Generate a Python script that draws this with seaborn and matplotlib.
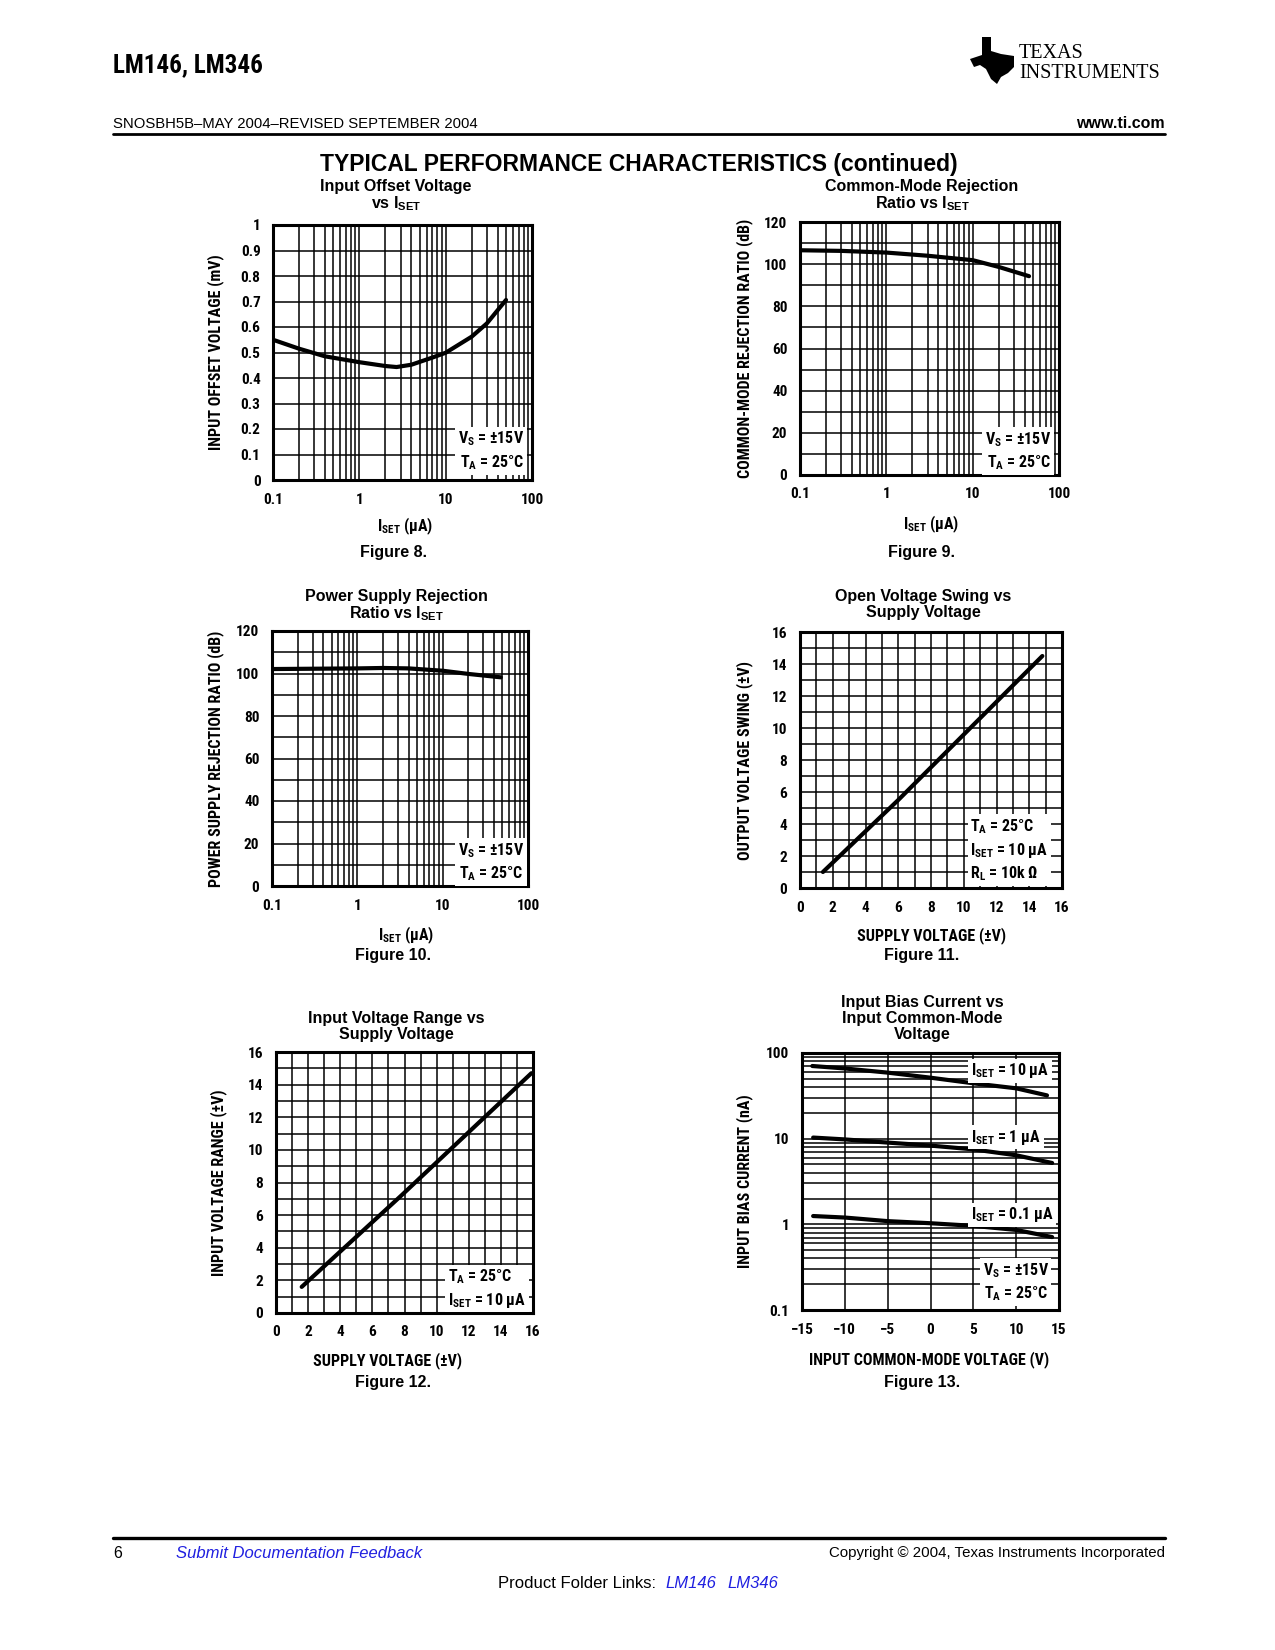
import os
import numpy as np
import pandas as pd
import seaborn as sns
import matplotlib.pyplot as plt
from matplotlib import font_manager
from matplotlib.font_manager import FontProperties
from matplotlib.ticker import MultipleLocator, LogLocator, NullFormatter
from matplotlib.patches import Polygon

# ---- values ----
# Figure 8: input offset voltage vs ISET
fig8_iset = [0.1, 0.2, 0.4, 1, 2, 2.7, 4, 7, 10, 20, 30, 50]
fig8_vos = [0.55, 0.515, 0.485, 0.462, 0.447, 0.443, 0.452, 0.48, 0.499, 0.562, 0.614, 0.706]

# Figure 9: CMRR vs ISET
fig9_iset = [0.1, 0.3, 1, 3, 10, 20, 45]
fig9_cmrr = [106.6, 106.3, 105.5, 104, 101.9, 98.7, 94.3]

# Figure 10: PSRR vs ISET
fig10_iset = [0.1, 1, 2, 4, 10, 20, 48]
fig10_psrr = [102.1, 102.4, 102.6, 102.4, 101.3, 99.8, 98.2]

# Figure 11: output voltage swing vs supply voltage
fig11_vs = [1.4, 6.0, 14.8]
fig11_swing = [1.0, 5.5, 14.5]

# Figure 12: input voltage range vs supply voltage
fig12_vs = [1.6, 7.8, 15.9]
fig12_range = [1.6, 7.2, 14.7]

# Figure 13: input bias current vs common-mode voltage
ib_10_vcm = [-13.8, -10, -5, 0, 5, 10, 13.6]
ib_10 = [70.5, 66, 59, 51.5, 44.3, 38.7, 32]
ib_1_vcm = [-13.7, -10, -5, 0, 5, 10, 14.2]
ib_1 = [10.3, 9.8, 9.0, 8.3, 7.5, 6.4, 5.2]
ib_01_vcm = [-13.7, -10, -5, 0, 5, 10, 14.2]
ib_01 = [1.25, 1.2, 1.09, 1.03, 0.96, 0.86, 0.71]

decade_ticks = [0.1, 1, 10, 100]
decade_labels = ["0.1", "1", "10", "100"]

sns.set_style("white")
plt.rcParams["font.family"] = ["Liberation Sans", "DejaVu Sans"]
plt.rcParams["text.color"] = "black"
plt.rcParams["axes.labelcolor"] = "black"
plt.rcParams["xtick.color"] = "black"
plt.rcParams["ytick.color"] = "black"

# datasheet graph lettering is a condensed bold sans; use one if installed
paths = {os.path.splitext(os.path.basename(f.fname))[0]: f.fname
         for f in font_manager.fontManager.ttflist}
wanted = ["LiberationSansNarrow-Bold", "RobotoCondensed-Bold", "NotoSans-CondensedBold",
          "DejaVuSansCondensed-Bold", "OpenSans-CondensedBold", "OpenSans_Condensed-Bold"]
narrow_path = next((paths[w] for w in wanted if w in paths), None)
if narrow_path is None:
    narrow_path = next((p for n, p in paths.items()
                        if ("ondensed" in n or "Narrow" in n) and "Bold" in n
                        and "Italic" not in n and "Extra" not in n and "Semi" not in n), None)


def nfp(size):
    if narrow_path:
        return FontProperties(fname=narrow_path, size=size)
    return FontProperties(family=["Liberation Sans", "DejaVu Sans"], weight="bold", size=size)


fp_tick = nfp(11)
fp_lab = nfp(11.5)
fp_note = nfp(11.5)

W, H = 1275, 1650
fig = plt.figure(figsize=(W / 100, H / 100), dpi=100)


def fy(y):
    return 1 - y / H


def make_axes(rect):
    l, t, r, b = rect
    ax = fig.add_axes([l / W, 1 - b / H, (r - l) / W, (b - t) / H])
    for s in ax.spines.values():
        s.set_color("black")
        s.set_linewidth(2.2)
    return ax


def finish(ax, rect, xlabel, xlab_px, ylabel, ylab_x):
    l, t, r, b = rect
    ax.grid(True, which="both", color="black", linewidth=1.1)
    ax.tick_params(which="both", length=0, pad=9)
    ax.set_xlabel(xlabel, fontproperties=fp_lab, va="center")
    ax.set_ylabel(ylabel, fontproperties=fp_lab, va="center")
    ax.xaxis.set_label_coords((xlab_px[0] - l) / (r - l), (b - xlab_px[1]) / (b - t))
    ax.yaxis.set_label_coords((ylab_x - l) / (r - l), 0.5)


def log_x(ax):
    ax.set_xscale("log")
    ax.set_xlim(0.1, 100)
    ax.set_xticks(decade_ticks, decade_labels, fontproperties=fp_tick)
    ax.xaxis.set_minor_locator(LogLocator(base=10, subs=np.arange(2, 10)))
    ax.xaxis.set_minor_formatter(NullFormatter())


def titles(x, ys, lines):
    for y, s in zip(ys, lines):
        fig.text(x / W, fy(y), s, ha="center", va="center", fontsize=11.5, weight="bold")


def caption(x, y, s):
    fig.text(x / W, fy(y), s, ha="center", va="center", fontsize=11.5, weight="bold")


def note(ax, x, y, s, ha="right"):
    ax.text(x, y, s, transform=ax.transAxes, ha=ha, va="center", fontproperties=fp_note,
            linespacing=1.35, zorder=5, bbox=dict(facecolor="white", edgecolor="none", pad=2))


iset_lab = "I$_\\mathregular{SET}$ (μA)"
vs_ta = "V$_\\mathregular{S}$ = ±15V\nT$_\\mathregular{A}$ = 25°C"

# ---- Figure 8 ----
r8 = (273, 225, 532, 480)
ax = make_axes(r8)
log_x(ax)
sns.lineplot(x=fig8_iset, y=fig8_vos, ax=ax, color="black", linewidth=3)
ax.set_ylim(0, 1)
yt = np.round(np.arange(0, 1.01, 0.1), 1)
ax.set_yticks(yt, ["0"] + [f"{v:g}" for v in yt[1:-1]] + ["1"], fontproperties=fp_tick)
finish(ax, r8, iset_lab, (405, 526), "INPUT OFFSET VOLTAGE (mV)", 216)
note(ax, 0.969, 0.114, vs_ta)
titles(396, [186.5, 204], ["Input Offset Voltage", "vs I$_\\mathregular{SET}$"])
caption(394, 552, "Figure 8.")

# ---- Figure 9 ----
r9 = (800, 222, 1059, 475)
ax = make_axes(r9)
log_x(ax)
sns.lineplot(x=fig9_iset, y=fig9_cmrr, ax=ax, color="black", linewidth=3)
ax.set_ylim(0, 120)
ax.set_yticks(range(0, 121, 20), [str(v) for v in range(0, 121, 20)], fontproperties=fp_tick)
ax.yaxis.set_minor_locator(MultipleLocator(10))
finish(ax, r9, iset_lab, (931, 524), "COMMON-MODE REJECTION RATIO (dB)", 745)
note(ax, 0.969, 0.095, vs_ta)
titles(922, [186.5, 203.5], ["Common-Mode Rejection", "Ratio vs I$_\\mathregular{SET}$"])
caption(921, 552, "Figure 9.")

# ---- Figure 10 ----
r10 = (272, 631, 528, 886)
ax = make_axes(r10)
log_x(ax)
sns.lineplot(x=fig10_iset, y=fig10_psrr, ax=ax, color="black", linewidth=3)
ax.set_ylim(0, 120)
ax.set_yticks(range(0, 121, 20), [str(v) for v in range(0, 121, 20)], fontproperties=fp_tick)
ax.yaxis.set_minor_locator(MultipleLocator(10))
finish(ax, r10, iset_lab, (406, 935), "POWER SUPPLY REJECTION RATIO (dB)", 216)
note(ax, 0.984, 0.094, vs_ta)
titles(396, [596.5, 613.5], ["Power Supply Rejection", "Ratio vs I$_\\mathregular{SET}$"])
caption(393, 956, "Figure 10.")

# ---- Figure 11 ----
r11 = (800, 632, 1062, 888)
ax = make_axes(r11)
sns.lineplot(x=fig11_vs, y=fig11_swing, ax=ax, color="black", linewidth=3)
ax.set_xlim(0, 16)
ax.set_ylim(0, 16)
ax.set_xticks(range(0, 17, 2), [str(v) for v in range(0, 17, 2)], fontproperties=fp_tick)
ax.set_yticks(range(0, 17, 2), [str(v) for v in range(0, 17, 2)], fontproperties=fp_tick)
ax.xaxis.set_minor_locator(MultipleLocator(1))
ax.yaxis.set_minor_locator(MultipleLocator(1))
finish(ax, r11, "SUPPLY VOLTAGE (±V)", (932, 936), "OUTPUT VOLTAGE SWING (±V)", 745)
note(ax, 0.65, 0.148,
     "T$_\\mathregular{A}$ = 25°C\nI$_\\mathregular{SET}$ = 10 μA\nR$_\\mathregular{L}$ = 10k Ω", ha="left")
titles(923, [596.5, 612], ["Open Voltage Swing vs", "Supply Voltage"])
caption(922, 956, "Figure 11.")

# ---- Figure 12 ----
r12 = (276, 1052, 533, 1313)
ax = make_axes(r12)
sns.lineplot(x=fig12_vs, y=fig12_range, ax=ax, color="black", linewidth=3)
ax.set_xlim(0, 16)
ax.set_ylim(0, 16)
ax.set_xticks(range(0, 17, 2), [str(v) for v in range(0, 17, 2)], fontproperties=fp_tick)
ax.set_yticks(range(0, 17, 2), [str(v) for v in range(0, 17, 2)], fontproperties=fp_tick)
ax.xaxis.set_minor_locator(MultipleLocator(1))
ax.yaxis.set_minor_locator(MultipleLocator(1))
finish(ax, r12, "SUPPLY VOLTAGE (±V)", (388, 1361), "INPUT VOLTAGE RANGE (±V)", 219)
note(ax, 0.67, 0.094, "T$_\\mathregular{A}$ = 25°C\nI$_\\mathregular{SET}$ = 10 μA", ha="left")
titles(396, [1018, 1034], ["Input Voltage Range vs", "Supply Voltage"])
caption(393, 1383, "Figure 12.")

# ---- Figure 13 ----
fig13 = pd.concat([
    pd.DataFrame({"vcm": ib_10_vcm, "ib": ib_10, "iset": "10 uA"}),
    pd.DataFrame({"vcm": ib_1_vcm, "ib": ib_1, "iset": "1 uA"}),
    pd.DataFrame({"vcm": ib_01_vcm, "ib": ib_01, "iset": "0.1 uA"}),
])
r13 = (802, 1053, 1059, 1310)
ax = make_axes(r13)
ax.set_yscale("log")
sns.lineplot(data=fig13, x="vcm", y="ib", hue="iset", palette=["black"] * 3,
             legend=False, ax=ax, linewidth=3)
ax.set_xlim(-15, 15)
ax.set_ylim(0.1, 100)
ax.set_xticks(range(-15, 16, 5), [str(v).replace("-", "\u2212") for v in range(-15, 16, 5)],
              fontproperties=fp_tick)
ax.set_yticks(decade_ticks, decade_labels, fontproperties=fp_tick)
ax.yaxis.set_minor_locator(LogLocator(base=10, subs=np.arange(2, 10)))
ax.yaxis.set_minor_formatter(NullFormatter())
finish(ax, r13, "INPUT COMMON-MODE VOLTAGE (V)", (929, 1360), "INPUT BIAS CURRENT (nA)", 745)
note(ax, 0.657, 0.93, "I$_\\mathregular{SET}$ = 10 μA", ha="left")
note(ax, 0.657, 0.673, "I$_\\mathregular{SET}$ = 1 μA", ha="left")
note(ax, 0.657, 0.37, "I$_\\mathregular{SET}$ = 0.1 μA", ha="left")
note(ax, 0.96, 0.109, vs_ta)
titles(922, [1003, 1019, 1035], ["Input Bias Current vs", "Input Common-Mode", "Voltage"])
caption(922, 1383, "Figure 13.")

# ---- page header ----
fig.text(113 / W, fy(65), "LM146, LM346", ha="left", va="center", fontproperties=nfp(18))
fig.text(113 / W, fy(124), "SNOSBH5B\u2013MAY 2004\u2013REVISED SEPTEMBER 2004",
         ha="left", va="center", fontsize=10.7)
fig.text(1165 / W, fy(124), "www.ti.com", ha="right", va="center", fontsize=11.5, weight="bold")
fig.add_artist(plt.Line2D([113 / W, 1165 / W], [fy(134), fy(134)], color="black", linewidth=2))
fig.text(639 / W, fy(164), "TYPICAL PERFORMANCE CHARACTERISTICS (continued)",
         ha="center", va="center", fontsize=16.5, weight="bold")

# TI logo: rough state outline plus the name
logo = np.array([(12, 0), (21, 0), (21, 14), (31, 17), (44, 19), (44, 30), (38, 36),
                 (31, 40), (27, 47), (21, 42), (16, 32), (10, 28), (4, 30), (0, 22), (12, 18)])
logo_xy = [((970 + px) / W, fy(37 + py)) for px, py in logo]
fig.add_artist(Polygon(logo_xy, closed=True, facecolor="black", edgecolor="none",
                       transform=fig.transFigure))
fig.text(1019 / W, fy(53), "TEXAS", ha="left", va="center", fontsize=14.5,
         family="Liberation Serif")
fig.text(1019 / W, fy(74), "INSTRUMENTS", ha="left", va="center", fontsize=14.5,
         family="Liberation Serif")

# ---- page footer ----
blue = "#2020e0"
fig.add_artist(plt.Line2D([113 / W, 1165 / W], [fy(1538), fy(1538)], color="black", linewidth=2.4))
fig.text(113 / W, fy(1553), "6", ha="left", va="center", fontsize=11.5)
fig.text(176 / W, fy(1553), "Submit Documentation Feedback", ha="left", va="center",
         fontsize=12, style="italic", color=blue)
fig.text(1165 / W, fy(1553), "Copyright © 2004, Texas Instruments Incorporated",
         ha="right", va="center", fontsize=10.8)
fig.text(661 / W, fy(1584), "Product Folder Links: ", ha="right", va="center", fontsize=12)
fig.text(665 / W, fy(1584), "LM146", ha="left", va="center", fontsize=12,
         style="italic", color=blue)
fig.text(727 / W, fy(1584), "LM346", ha="left", va="center", fontsize=12,
         style="italic", color=blue)

fig.savefig("out.png", dpi=100)
